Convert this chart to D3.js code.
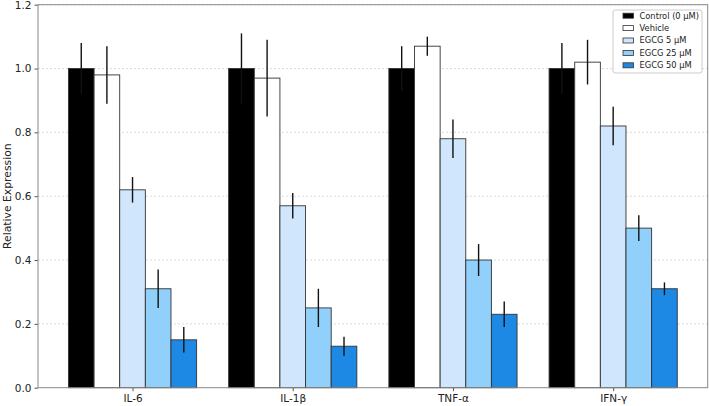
<!doctype html>
<html>
  <head>
    <meta charset="utf-8">
    <script src="https://cdn.jsdelivr.net/npm/d3@7/dist/d3.min.js"></script>
    <style>
      body { margin: 0; background: #fff; }
      text { font-family: "DejaVu Sans", sans-serif; }
    </style>
  </head>
  <body>
    <div id="viz">
      <svg width="709" height="406"></svg>
    </div>
    <script>
      var cytokines = ["IL-6", "IL-1β", "TNF-α", "IFN-γ"];
      var groups = ["Control (0 μM)", "Vehicle", "EGCG 5 μM", "EGCG 25 μM", "EGCG 50 μM"];
      var colors = ["#000000", "#ffffff", "#d0e6fc", "#90d0fa", "#1e88e5"];

      // one array per group, in cytokine order
      var control = [1.00, 1.00, 1.00, 1.00];
      var vehicle = [0.98, 0.97, 1.07, 1.02];
      var egcg5   = [0.62, 0.57, 0.78, 0.82];
      var egcg25  = [0.31, 0.25, 0.40, 0.50];
      var egcg50  = [0.15, 0.13, 0.23, 0.31];

      var controlErr = [0.08, 0.11, 0.07, 0.08];
      var vehicleErr = [0.09, 0.12, 0.03, 0.07];
      var egcg5Err   = [0.04, 0.04, 0.06, 0.06];
      var egcg25Err  = [0.06, 0.06, 0.05, 0.04];
      var egcg50Err  = [0.04, 0.03, 0.04, 0.02];

      var yTicks = [0.0, 0.2, 0.4, 0.6, 0.8, 1.0, 1.2];

      var values = [control, vehicle, egcg5, egcg25, egcg50];
      var errors = [controlErr, vehicleErr, egcg5Err, egcg25Err, egcg50Err];
      var barW = 0.16;

      var rows = [];
      groups.forEach((g, gi) => {
        cytokines.forEach((c, ci) => {
          rows.push({g: gi, c: ci, v: values[gi][ci], e: errors[gi][ci]});
        });
      });

      var plotL = 38, plotR = 707.7, plotT = 4.7, plotB = 387.7;
      var svg = d3.select("svg");

      var x = d3.scaleLinear().domain([-0.59, 3.59]).range([plotL, plotR]);
      var y = d3.scaleLinear().domain([0, 1.2]).range([plotB, plotT]);

      // grid
      svg.append("g")
        .selectAll("line")
        .data(yTicks.slice(1))
        .enter()
        .append("line")
          .attr("x1", plotL).attr("x2", plotR)
          .attr("y1", d => y(d)).attr("y2", d => y(d))
          .attr("stroke", "#cccccc")
          .attr("stroke-width", 0.7)
          .attr("stroke-dasharray", "2,2");

      // bars
      var xPos = d => d.c + (d.g - 2) * barW;
      svg.append("g")
        .selectAll("rect")
        .data(rows)
        .enter()
        .append("rect")
          .attr("x", d => x(xPos(d) - barW / 2))
          .attr("width", d => x(barW) - x(0))
          .attr("y", d => y(d.v))
          .attr("height", d => y(0) - y(d.v))
          .attr("fill", d => colors[d.g])
          .attr("stroke", "#333")
          .attr("stroke-width", 0.9);

      // error bars
      svg.append("g")
        .selectAll("line")
        .data(rows)
        .enter()
        .append("line")
          .attr("x1", d => x(xPos(d))).attr("x2", d => x(xPos(d)))
          .attr("y1", d => y(d.v - d.e)).attr("y2", d => y(d.v + d.e))
          .attr("stroke", "#111")
          .attr("stroke-width", 1.4);

      // axes
      var yAxis = svg.append("g")
        .attr("transform", "translate(" + plotL + ",0)")
        .call(d3.axisLeft(y).tickValues(yTicks).tickFormat(d3.format(".1f")).tickSize(3.5).tickPadding(3));
      var xAxis = svg.append("g")
        .attr("transform", "translate(0," + plotB + ")")
        .call(d3.axisBottom(x).tickValues([0, 1, 2, 3]).tickFormat(i => cytokines[i]).tickSize(3.5).tickPadding(3));
      [yAxis, xAxis].forEach(a => {
        a.select(".domain").remove();
        a.selectAll(".tick line").attr("stroke", "#555");
        a.selectAll("text").attr("font-size", 10.5).attr("fill", "#222")
          .style("font-family", "DejaVu Sans, sans-serif");
      });

      // frame
      svg.append("rect")
        .attr("x", plotL).attr("y", plotT)
        .attr("width", plotR - plotL).attr("height", plotB - plotT)
        .attr("fill", "none")
        .attr("stroke", "#888")
        .attr("stroke-width", 1);

      svg.append("text")
        .attr("transform", "translate(11," + ((plotT + plotB) / 2) + ") rotate(-90)")
        .attr("text-anchor", "middle")
        .attr("font-size", 10.8)
        .attr("fill", "#222")
        .text("Relative Expression");

      // legend
      var lg = svg.append("g").attr("transform", "translate(613,10)");
      lg.append("rect")
        .attr("width", 89).attr("height", 63)
        .attr("rx", 2)
        .attr("fill", "#fff").attr("fill-opacity", 0.85)
        .attr("stroke", "#ccc");
      var item = lg.selectAll(".item")
        .data(groups)
        .enter()
        .append("g")
          .attr("class", "item")
          .attr("transform", (d, i) => "translate(0," + (5.7 + i * 12.4) + ")");
      item.append("rect")
        .attr("x", 10).attr("y", -2.5)
        .attr("width", 10.5).attr("height", 5)
        .attr("fill", (d, i) => colors[i])
        .attr("stroke", "#333")
        .attr("stroke-width", 0.8);
      item.append("text")
        .attr("x", 26.5).attr("y", 0)
        .attr("dy", "0.35em")
        .attr("font-size", 8.3)
        .attr("fill", "#222")
        .text(d => d);
    </script>
  </body>
</html>
